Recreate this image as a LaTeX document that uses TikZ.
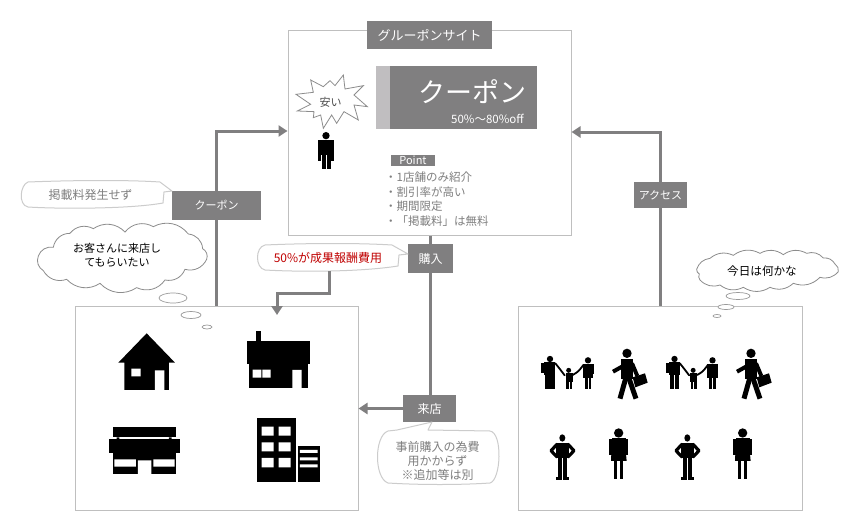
\documentclass[tikz,border=0pt]{standalone}
\usepackage{fontspec}
\setmainfont{Noto Sans CJK JP}
\usetikzlibrary{arrows.meta,shapes.geometric}
\definecolor{lab}{HTML}{807F80}
\definecolor{edge}{HTML}{BFBFBF}
\definecolor{txt}{HTML}{7F7F7F}
\definecolor{strip}{HTML}{C0BEC0}
\definecolor{redt}{HTML}{C00000}
\newcommand{\fs}[2][14]{\fontsize{#2}{#1}\selectfont}
\tikzset{
 panel/.style={draw=edge,line width=1pt,fill=white,inner sep=0pt},
 tag/.style={fill=lab,text=white,inner sep=0pt,font=\fs{11}},
 link/.style={draw=lab,line width=3pt},
 arrowlink/.style={link,-{Triangle[length=9pt,width=11pt]}},
 note/.style={draw=edge!80,line width=1pt,fill=white,line join=round},
 cloudline/.style={draw=black!45,line width=.8pt,fill=white,bend left=40},
 bubble/.style={draw=black!40,line width=.7pt,fill=white,ellipse,inner sep=0pt},
 zoomA/.style={shift={(70,300)},x=.3333pt,y=-.3333pt},
 zoomB/.style={shift={(510,300)},x=.3333pt,y=-.3333pt},
 zoomC/.style={shift={(280,15)},x=.3333pt,y=-.3333pt},
 zoomD/.style={shift={(10,170)},x=.3333pt,y=-.3333pt},
 zoomE/.style={shift={(620,170)},x=.3333pt,y=-.3333pt},
 limb/.style={draw=black,line width=#1,line join=round},
}
\newcommand{\family}[1]{\begin{scope}[xshift=#1]
 \fill (120,177) circle (9.5);
 \fill (103,186) rectangle (136,224);
 \fill (94,188) rectangle (103,220);
 \fill (106,224) rectangle (119,268);
 \fill (121,224) rectangle (134,268);
 \draw[limb=1.8pt,line cap=round] (136,190) .. controls (148,205) .. (164,226);
 \fill (176,211) circle (7.5);
 \fill (167,219) rectangle (188,247);
 \fill (168,247) rectangle (176,268);
 \fill (179,247) rectangle (187,268);
 \draw[limb=1.8pt,line cap=round] (188,225) .. controls (205,215) .. (220,195);
 \fill (234,181) circle (9.5);
 \fill (219,191) rectangle (248,222);
 \fill (219,222) rectangle (250,235);
 \fill (248,191) rectangle (252,222);
 \fill (225,235) rectangle (233,268);
 \fill (236,235) rectangle (244,268);
\end{scope}}
\newcommand{\walker}[1]{\begin{scope}[xshift=#1]
 \fill (351,160) circle (14);
 \fill (334,176) rectangle (369,238);
 \draw[limb=4pt] (336,200) -- (309,215);
 \draw[limb=4pt] (366,190) -- (382,228);
 \fill (368,232) -- (405,220) -- (413,248) -- (376,262) -- cycle;
 \draw[limb=5pt] (348,232) -- (330,296);
 \draw[limb=5pt] (356,232) -- (378,296);
\end{scope}}
\newcommand{\hipman}[1]{\begin{scope}[xshift=#1]
 \fill (157,414) ellipse (9 and 11);
 \fill (137,428) rectangle (178,475);
 \draw[limb=3.2pt] (142,432) -- (123,452) -- (142,472);
 \draw[limb=3.2pt] (173,432) -- (192,452) -- (173,472);
 \fill (144,475) rectangle (156,535);
 \fill (159,475) rectangle (171,535);
 \fill (138,532) rectangle (156,540);
 \fill (159,532) rectangle (177,540);
\end{scope}}
\newcommand{\woman}[1]{\begin{scope}[xshift=#1]
 \fill (326,399) circle (14);
 \fill (305,414) rectangle (347,462);
 \fill (298,416) rectangle (305,464);
 \fill (347,416) rectangle (354,464);
 \fill (304,462) -- (348,462) -- (350,483) -- (303,483) -- cycle;
 \fill (312,483) rectangle (322,536);
 \fill (330,483) rectangle (340,536);
\end{scope}}
\begin{document}
\begin{tikzpicture}[x=1pt,y=-1pt]
\useasboundingbox (0,0) rectangle (868,530);
\fill[white] (0,0) rectangle (868,530);
% panels
\node[panel,minimum width=283pt,minimum height=205pt] (site) at (429.5,132.5) {};
\node[panel,minimum width=283pt,minimum height=204pt] (shops) at (216.5,408) {};
\node[panel,minimum width=284pt,minimum height=204pt] (people) at (660,408) {};
% tags
\node[tag,minimum width=125pt,minimum height=28pt,font=\fs{13}] (sitetag) at (429.5,35) {グルーポンサイト};
\node[tag,minimum width=89pt,minimum height=29pt] (coupontag) at (216.5,205.5) {クーポン};
\node[tag,minimum width=53pt,minimum height=26pt] (accesstag) at (660.5,195) {アクセス};
\node[tag,minimum width=45pt,minimum height=29pt,font=\fs{12}] (buytag) at (430.5,258.5) {購入};
\node[tag,minimum width=53pt,minimum height=27pt,font=\fs{12}] (visittag) at (429.5,408.5) {来店};
% connectors
\draw[link] (coupontag) -- (coupontag |- shops.north);
\draw[arrowlink] (coupontag.north) |- (site.west |- 0,131);
\draw[arrowlink] (accesstag.north) |- (site.east |- 0,132);
\draw[link] (accesstag.south) -- (accesstag |- people.north);
\draw[link] (site.south -| buytag) -- (buytag.north);
\draw[link] (buytag.south) -- (visittag.north -| buytag);
\draw[arrowlink] (visittag.west) -- (shops.east |- visittag);
% coupon banner
\node[fill=lab,text=white,inner sep=0pt,minimum width=161pt,minimum height=63pt] (banner) at (456.5,97.5) {};
\fill[strip] (banner.north west) rectangle (390,129);
\node[text=white,font={\fs[30]{27}},inner sep=0pt] (bannertitle) at (472,92) {クーポン};
\node[text=white,font=\fs{11.5},inner sep=0pt] (bannersub) at (487.5,118.5) {50\%〜80\%off};
% burst and person
\begin{scope}[zoomC]
 \draw[draw=black!45,line width=.8pt,fill=white,line join=miter] (92,195) -- (130,215) -- (150,197) -- (165,212) -- (190,180) -- (195,222) -- (250,212) -- (222,240) -- (262,275) -- (222,270) -- (235,315) -- (192,290) -- (170,325) -- (155,300) -- (130,340) -- (122,300) -- (100,308) -- (102,290) -- (52,288) -- (92,268) -- (48,238) -- (100,232) -- cycle;
 \fill (138,362) circle (11);
 \fill (114,375) rectangle (162,420);
 \fill (114,420) rectangle (122,438);
 \fill (154,420) rectangle (162,438);
 \fill (125,420) rectangle (137,463);
 \fill (140,420) rectangle (152,463);
\end{scope}
\node[font=\fs{11},text=black!70,inner sep=0pt] (yasui) at (330.5,102) {安い};
% point list
\node[tag,minimum width=44pt,minimum height=11pt] (point) at (413,160.5) {Point};
\node[anchor=north west,text=txt,font={\fs[14.4]{11.5}},inner sep=0pt,align=left] (points) at (385,172) {・1店舗のみ紹介\\ ・割引率が高い\\ ・期間限定\\ ・「掲載料」は無料};
% callouts
\draw[note] (28,182) .. controls (80,180) and (130,180) .. (160,182) -- (172,191) -- (164,192) -- (163,203) .. controls (130,209) and (60,209) .. (28,207) .. controls (18,205) and (20,185) .. (28,182) -- cycle;
\node[text=txt,font=\fs{12},inner sep=0pt] (freenote) at (90.5,195) {掲載料発生せず};
\draw[note] (265,245) .. controls (310,243) and (360,243) .. (392,245) -- (408,254) -- (399,255) -- (398,266) .. controls (360,272) and (300,272) .. (265,270) .. controls (255,268) and (255,247) .. (265,245) -- cycle;
\node[text=redt,font=\fs{12},inner sep=0pt] (rednote) at (328,257.5) {50\%が成果報酬費用};
\coordinate (redfoot) at (329,271);
\draw[arrowlink] (redfoot) |- (277,293) -- (277,315);
\draw[note] (388,431) -- (397,430) -- (432,422) -- (428,430) -- (490,431) .. controls (503,433) and (501,480) .. (490,483) .. controls (460,485) and (420,485) .. (388,483) .. controls (374,478) and (374,436) .. (388,431) -- cycle;
\node[text=txt,font=\fs{12},inner sep=0pt,align=center] (visitnote) at (437.5,460.5) {事前購入の為費\\ 用かからず\\ ※追加等は別};
% thought clouds
\begin{scope}[zoomD]
 \draw[cloudline] (85,258) to (130,232) to (180,190) to (250,176) to (345,186) to (430,170) to (535,192) to (578,236) to (590,268) to (525,298) to (465,330) to (380,353) to (270,340) to (170,328) to (100,302) to cycle;
\end{scope}
\node[font=\fs{11},inner sep=0pt,align=center] (wishtext) at (117,255) {お客さんに来店し\\ てもらいたい};
\node[bubble,minimum width=28pt,minimum height=10pt] (b1) at (173,298) {};
\node[bubble,minimum width=20pt,minimum height=7pt] (b2) at (191,315) {};
\node[bubble,minimum width=10pt,minimum height=4pt] (b3) at (207,327) {};
\begin{scope}[zoomE]
 \draw[cloudline,bend left=32] (230,298) to (270,265) to (340,256) to (420,250) to (490,254) to (560,250) to (610,264) to (645,282) to (655,305) to (600,322) to (520,340) to (450,352) to (370,352) to (300,345) to (240,330) to (238,312) to cycle;
\end{scope}
\node[font=\fs{11.6},inner sep=0pt] (todaytext) at (762,271) {今日は何かな};
\node[bubble,minimum width=24pt,minimum height=7pt] (b4) at (738,296) {};
\node[bubble,minimum width=16pt,minimum height=5pt] (b5) at (726,307) {};
\node[bubble,minimum width=8pt,minimum height=3pt] (b6) at (717,316) {};
% buildings
\begin{scope}[zoomA]
 \fill (230,100) -- (315,188) -- (297,188) -- (297,270) -- (163,270) -- (163,188) -- (145,188) -- cycle;
 \fill[white] (184,206) rectangle (212,229) (255,211) rectangle (283,270);
 \fill (557,93) rectangle (574,125);
 \fill (531,124) rectangle (719,193);
 \fill (536,193) rectangle (714,265);
 \fill[white] (548,209) rectangle (574,233) (577,209) rectangle (602,233) (667,210) rectangle (695,265);
 \fill (128,380) rectangle (319,412);
 \fill (140,412) rectangle (148,420) (297,412) rectangle (305,420);
 \fill (116,418) rectangle (331,460);
 \fill (128,460) rectangle (319,523);
 \fill[white] (133,478) rectangle (198,500) (250,478) rectangle (314,500) (204,481) rectangle (244,523);
 \fill (560,355) rectangle (677,547);
 \fill[white] (575,380) rectangle (611,407) (626,380) rectangle (662,407)
  (575,427) rectangle (611,454) (626,427) rectangle (662,454)
  (575,474) rectangle (611,502) (626,474) rectangle (662,502);
 \fill (683,438) rectangle (749,547);
 \fill[white] (690,450) rectangle (743,459) (690,472) rectangle (743,481) (690,493) rectangle (743,502);
\end{scope}
% people
\begin{scope}[zoomB]
 \family{0pt} \family{124.5pt}
 \walker{0pt} \walker{124pt}
 \hipman{0pt} \hipman{125pt}
 \woman{0pt} \woman{124pt}
\end{scope}
\end{tikzpicture}
\end{document}
